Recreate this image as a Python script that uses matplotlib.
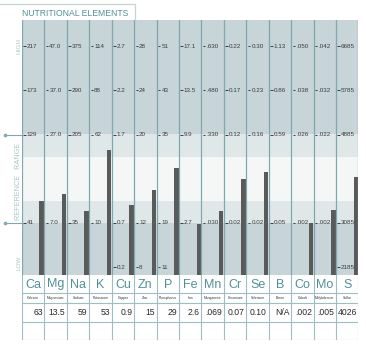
import matplotlib
matplotlib.use("Agg")
import matplotlib.pyplot as plt

symbols = ["Ca", "Mg", "Na", "K", "Cu", "Zn", "P", "Fe", "Mn", "Cr", "Se", "B", "Co", "Mo", "S"]
names = ["Calcium", "Magnesium", "Sodium", "Potassium", "Copper", "Zinc", "Phosphorus", "Iron",
         "Manganese", "Chromium", "Selenium", "Boron", "Cobalt", "Molybdenum", "Sulfur"]
values = [63, 13.5, 59, 53, 0.9, 15, 29, 2.6, 0.069, 0.07, 0.10, None, 0.002, 0.005, 4026]
value_labels = ["63", "13.5", "59", "53", "0.9", "15", "29", "2.6", ".069", "0.07", "0.10",
                "N/A", ".002", ".005", "4026"]
high_labels = ["217", "47.0", "375", "114", "2.7", "28", "51", "17.1", ".630", "0.22", "0.30",
               "1.13", ".050", ".042", "6685"]
upper_labels = ["173", "37.0", "290", "88", "2.2", "24", "43", "13.5", ".480", "0.17", "0.23",
                "0.86", ".038", ".032", "5785"]
ref_high_labels = ["129", "27.0", "205", "62", "1.7", "20", "35", "9.9", ".330", "0.12", "0.16",
                   "0.59", ".026", ".022", "4885"]
ref_low_labels = ["41", "7.0", "35", "10", "0.7", "12", "19", "2.7", ".030", "0.02", "0.02",
                  "0.05", ".002", ".002", "3085"]
low_labels = ["", "", "", "", "0.2", "8", "11", "", "", "", "", "", "", "", "2185"]

plt.rcParams['font.family'] = ['Liberation Sans', 'DejaVu Sans']

TEAL = "#4f9297"
LINE = "#7fa9ae"
DARK = "#c7d4d8"
LIGHT = "#e0e7e9"
WHITE = "#f5f7f7"
BAR = "#5a5a5a"
TXT = "#3c3c3c"

W, H = 366, 350
fig = plt.figure(figsize=(W / 100, H / 100), dpi=100)

px_l, px_r, px_t, px_b = 22, 358.5, 20, 275
ax = fig.add_axes([px_l / W, 1 - px_b / H, (px_r - px_l) / W, (px_b - px_t) / H])
n = len(symbols)
per = 44.25
y_bot = 1 - (px_b - 223) / per
y_top = 3 + (134.5 - px_t) / per
ax.set_xlim(0, n)
ax.set_ylim(y_bot, y_top)
ax.axis("off")

# background bands
ax.axhspan(y_bot, 1.0, color=DARK, lw=0, zorder=0)
ax.axhspan(1.0, 1.5, color=LIGHT, lw=0, zorder=0)
ax.axhspan(1.5, 2.5, color=WHITE, lw=0, zorder=0)
ax.axhspan(2.5, 3.02, color=LIGHT, lw=0, zorder=0)
ax.axhspan(3.02, y_top, color=DARK, lw=0, zorder=0)

# column separators
for i in range(n + 1):
    ax.axvline(i, color=LINE, lw=0.9, zorder=3)

# bars
for i, v in enumerate(values):
    if v is None:
        continue
    lo = float(ref_low_labels[i])
    hi = float(ref_high_labels[i])
    step = (hi - lo) / 2
    lvl = 1 + (v - lo) / step
    ax.bar(i + 0.78, lvl - y_bot, bottom=y_bot, width=0.2, align="edge",
           color=BAR, lw=0, zorder=2)

# tick labels
levels = [(5, high_labels), (4, upper_labels), (3, ref_high_labels), (1, ref_low_labels), (0, low_labels)]
for lvl, labs in levels:
    for i, lab in enumerate(labs):
        if not lab:
            continue
        ax.plot([i + 0.06, i + 0.17], [lvl, lvl], color=TXT, lw=0.7, zorder=4,
                solid_capstyle="butt")
        ax.text(i + 0.22, lvl, lab, fontsize=4.5, color=TXT, ha="left", va="center", zorder=4)

# left markers
for lvl in (3, 1):
    ax.plot([-0.76, 0], [lvl, lvl], color=LINE, lw=0.8, clip_on=False, zorder=4)
    ax.plot([-0.76], [lvl], marker="o", ms=1.6, color=LINE, clip_on=False, zorder=4)

# side labels
SIDE = "#a7c6ca"
ax.text(-0.14, 5.0, "HIGH", rotation=90, fontsize=4.6, color=SIDE, ha="center", va="center")
ax.text(-0.14, 1.95, "REFERENCE   RANGE", rotation=90, fontsize=5.2, color=SIDE, ha="center", va="center")
ax.text(-0.14, 0.1, "LOW", rotation=90, fontsize=4.6, color=SIDE, ha="center", va="center")

# table
tb_b = 340
tax = fig.add_axes([px_l / W, 1 - tb_b / H, (px_r - px_l) / W, (tb_b - px_b) / H])
tax.set_xlim(0, n)
tax.set_ylim(tb_b, px_b)
tax.axis("off")
TL = "#9dbfc3"
for yy in (293, 303, 322, 339.5):
    tax.axhline(yy, color=TL, lw=0.8)
for i in range(n + 1):
    tax.axvline(i, color=TL, lw=0.8)
for i in range(n):
    tax.text(i + 0.5, 284.5, symbols[i], fontsize=9.0, color=TEAL, ha="center", va="center",
             family=['Liberation Sans Narrow', 'Liberation Sans', 'DejaVu Sans'])
    tax.text(i + 0.5, 298.3, names[i], fontsize=2.4, color="#333333", ha="center", va="center")
    tax.text(i + 0.92, 312.8, value_labels[i], fontsize=6.2, color="#2a2a2a", ha="right", va="center")

# title and frame
fig.text(22 / W, 1 - 13.3 / H, "NUTRITIONAL ELEMENTS", fontsize=6.2, color=TEAL,
         ha="left", va="center")
fig.add_artist(plt.Line2D([0, 135 / W, 135 / W], [1 - 4 / H, 1 - 4 / H, 1 - 20 / H],
                          color="#c4d4d7", lw=0.9))

fig.savefig("out.png", dpi=100)
